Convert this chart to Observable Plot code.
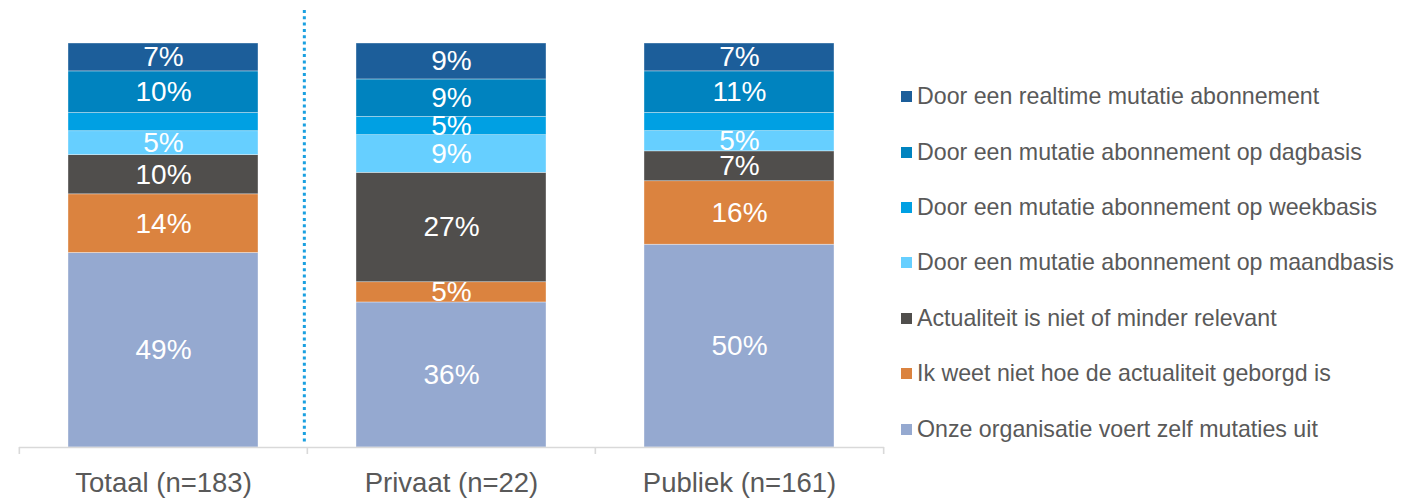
<!DOCTYPE html>
<html>
<head>
<meta charset="utf-8">
<script src="https://cdn.jsdelivr.net/npm/d3@7"></script>
<script src="https://cdn.jsdelivr.net/npm/@observablehq/plot@0.6"></script>
<style>
  html, body { margin: 0; padding: 0; background: #fff; }
  #wrap { position: relative; width: 1421px; height: 498px; font-family: "Liberation Sans", Arial, sans-serif; }
  #chart { position: absolute; left: 0; top: 0; }
  #legend { position: absolute; left: 901px; top: 69px; }
  .row { height: 55.4px; display: flex; align-items: center; white-space: nowrap; color: #595959; font-size: 23.2px; }
  .sw { width: 11px; height: 11px; margin-right: 5px; flex: none; }
</style>
</head>
<body>
<div id="wrap"><div id="chart"></div><div id="legend"></div></div>
<script>
const categories = ["Totaal (n=183)", "Privaat (n=22)", "Publiek (n=161)"];
// bottom-to-top stack order
const series = [
  "Onze organisatie voert zelf mutaties uit",
  "Ik weet niet hoe de actualiteit geborgd is",
  "Actualiteit is niet of minder relevant",
  "Door een mutatie abonnement op maandbasis",
  "Door een mutatie abonnement op weekbasis",
  "Door een mutatie abonnement op dagbasis",
  "Door een realtime mutatie abonnement"
];
const colors = ["#95A9D0", "#DB833F", "#504E4C", "#66CFFF", "#00A0E3", "#0083BF", "#1C5E9A"];
// estimated shares (%) per category, bottom-to-top
const totaal = [48.1, 14.5, 9.7, 5.9, 4.5, 10.3, 6.9];
const privaat = [35.9, 5.0, 27.1, 9.3, 4.5, 9.3, 8.9];
const publiek = [50.2, 15.7, 7.4, 5.0, 4.5, 10.3, 6.9];
// data labels as printed in the chart
const totaalLabels = ["49%", "14%", "10%", "5%", "", "10%", "7%"];
const privaatLabels = ["36%", "5%", "27%", "9%", "5%", "9%", "9%"];
const publiekLabels = ["50%", "16%", "7%", "5%", "", "11%", "7%"];

const valuesByCategory = [totaal, privaat, publiek];
const labelsByCategory = [totaalLabels, privaatLabels, publiekLabels];
const data = [];
categories.forEach((c, ci) => {
  series.forEach((s, si) => data.push({
    category: c, series: s,
    value: valuesByCategory[ci][si],
    label: labelsByCategory[ci][si]
  }));
});

const W = 900, H = 498, ML = 19, MR = 16, MT = 43, MB = 51;
const step = (W - ML - MR) / categories.length;
const font = "Liberation Sans, Arial, sans-serif";

const chart = Plot.plot({
  width: W,
  height: H,
  marginLeft: ML,
  marginRight: MR,
  marginTop: MT,
  marginBottom: MB,
  style: {fontFamily: font, background: "white"},
  x: {domain: categories, paddingInner: 0.34, paddingOuter: 0.17, label: null},
  y: {domain: [0, 1], axis: null},
  color: {domain: series, range: colors},
  marks: [
    Plot.barY(data, Plot.stackY({
      x: "category", y: "value", fill: "series", z: "series",
      order: series, offset: "normalize",
      stroke: "white", strokeWidth: 0.6, strokeOpacity: 0.6
    })),
    Plot.text(data, Plot.stackY({
      x: "category", y: "value", z: "series",
      order: series, offset: "normalize",
      text: "label",
      fill: "white", fontSize: 28, fontFamily: font
    })),
    Plot.ruleY([0], {stroke: "#D9D9D9", strokeWidth: 1.6}),
    Plot.ruleX(categories, {x: d => d, y1: 0, y2: 0, insetBottom: -7, dx: -step / 2, stroke: "#D9D9D9", strokeWidth: 1.6}),
    Plot.ruleX(categories.slice(-1), {x: d => d, y1: 0, y2: 0, insetBottom: -7, dx: step / 2, stroke: "#D9D9D9", strokeWidth: 1.6}),
    Plot.ruleX(categories.slice(1, 2), {x: d => d, dx: -step / 2 - 3, insetTop: -33, insetBottom: 4, stroke: "#1AA0E0", strokeWidth: 3, strokeDasharray: "3,3.3"}),
    Plot.axisX({tickSize: 0, tickPadding: 25, fontSize: 27.5, fill: "#595959", label: null, fontFamily: font})
  ]
});
document.getElementById("chart").appendChild(chart);

const legend = document.getElementById("legend");
series.slice().reverse().forEach((s) => {
  const i = series.indexOf(s);
  const row = document.createElement("div");
  row.className = "row";
  const sw = document.createElement("span");
  sw.className = "sw";
  sw.style.background = colors[i];
  const t = document.createElement("span");
  t.textContent = s;
  row.appendChild(sw);
  row.appendChild(t);
  legend.appendChild(row);
});
</script>
</body>
</html>
